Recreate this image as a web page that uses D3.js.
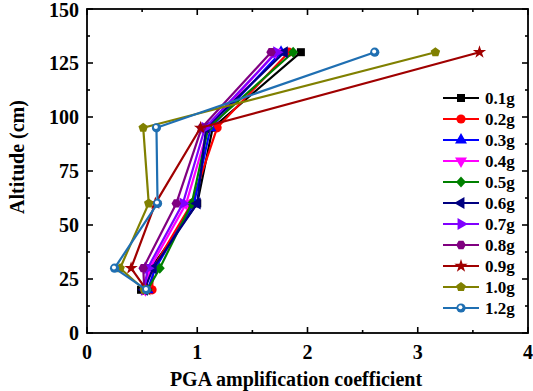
<!DOCTYPE html>
<html><head><meta charset="utf-8">
<script src="https://cdn.jsdelivr.net/npm/d3@7"></script>
<style>body{margin:0;background:#fff}svg{display:block}</style>
</head><body>
<svg id="c" width="533" height="391"></svg>
<script>
const altitudes = [20, 30, 60, 95, 130];
const seriesNames = ["0.1g","0.2g","0.3g","0.4g","0.5g","0.6g","0.7g","0.8g","0.9g","1.0g","1.2g"];
const s01 = [0.49, 0.58, 1.00, 1.14, 1.94];
const s02 = [0.59, 0.60, 0.95, 1.18, 1.83];
const s03 = [0.55, 0.62, 0.97, 1.12, 1.76];
const s04 = [0.53, 0.57, 0.90, 1.10, 1.71];
const s05 = [0.55, 0.66, 0.95, 1.10, 1.87];
const s06 = [0.52, 0.60, 1.00, 1.08, 1.79];
const s07 = [0.52, 0.55, 0.87, 1.07, 1.72];
const s08 = [0.52, 0.51, 0.81, 1.04, 1.67];
const s09 = [0.54, 0.40, 0.62, 1.03, 3.56];
const s10 = [0.52, 0.30, 0.56, 0.51, 3.16];
const s12 = [0.54, 0.25, 0.64, 0.63, 2.61];
const seriesValues = [s01,s02,s03,s04,s05,s06,s07,s08,s09,s10,s12];
const colors = ["#000000","#ff0000","#0000ff","#ff00ff","#008000","#000080","#8000ff","#800080","#a00000","#808000","#1f6fb2"];
const symbolsKind = ["square","circle","up","down","diamond","left","right","hex","star","pent","ball"];
const xTicks = [0,1,2,3,4];
const yTicks = [0,25,50,75,100,125,150];

const svg = d3.select("#c");
const L = 87, R = 528, T = 9, B = 333;
const x = d3.scaleLinear().domain([0,4]).range([L,R]);
const y = d3.scaleLinear().domain([0,150]).range([B,T]);
const font = "'Liberation Serif','Times New Roman',serif";

function marker(g, kind, color, cx, cy){
  switch(kind){
    case "square": g.append("rect").attr("x",cx-4).attr("y",cy-4).attr("width",8).attr("height",8).attr("fill",color); break;
    case "circle": g.append("circle").attr("cx",cx).attr("cy",cy).attr("r",4.6).attr("fill",color); break;
    case "up": case "down": case "left": case "right": {
      const rot = {up:0,down:180,left:-90,right:90}[kind];
      g.append("path").attr("d",d3.symbol().type(d3.symbolTriangle).size(62)())
        .attr("transform",`translate(${cx},${cy}) rotate(${rot})`).attr("fill",color); break; }
    case "diamond": g.append("path").attr("d","M0,-5.5L5,0L0,5.5L-5,0Z").attr("transform",`translate(${cx},${cy})`).attr("fill",color); break;
    case "hex": {
      const pts = d3.range(6).map(i=>{const a=Math.PI/3*i; return [4.8*Math.cos(a),4.8*Math.sin(a)];});
      g.append("path").attr("d","M"+pts.join("L")+"Z").attr("transform",`translate(${cx},${cy})`).attr("fill",color); break; }
    case "star": g.append("path").attr("d",d3.symbol().type(d3.symbolStar).size(55)()).attr("transform",`translate(${cx},${cy})`).attr("fill",color); break;
    case "pent": {
      const pts = d3.range(5).map(i=>{const a=-Math.PI/2+2*Math.PI/5*i; return [5*Math.cos(a),5*Math.sin(a)];});
      g.append("path").attr("d","M"+pts.join("L")+"Z").attr("transform",`translate(${cx},${cy})`).attr("fill",color); break; }
    case "ball":
      g.append("circle").attr("cx",cx).attr("cy",cy).attr("r",4.6).attr("fill",color);
      g.append("circle").attr("cx",cx-0.6).attr("cy",cy-0.8).attr("r",2).attr("fill","#ffffff"); break;
  }
}

// series
const line = d3.line().x(d=>x(d[0])).y(d=>y(d[1]));
seriesValues.forEach((vals,i)=>{
  const g = svg.append("g");
  const pts = vals.map((v,j)=>[v, altitudes[j]]);
  g.append("path").attr("d",line(pts)).attr("fill","none").attr("stroke",colors[i]).attr("stroke-width",2.2).attr("stroke-linejoin","round");
  pts.forEach(p=>marker(g, symbolsKind[i], colors[i], x(p[0]), y(p[1])));
});

// frame
svg.append("rect").attr("x",L).attr("y",T).attr("width",R-L).attr("height",B-T).attr("fill","none").attr("stroke","#000").attr("stroke-width",1.8);

// ticks inward
const ax = svg.append("g").attr("stroke","#000").attr("stroke-width",1.6);
d3.range(0,4.01,0.5).forEach(v=>{
  const major = Math.abs(v-Math.round(v))<1e-6; const len = major?6:3;
  ax.append("line").attr("x1",x(v)).attr("x2",x(v)).attr("y1",B).attr("y2",B-len);
  ax.append("line").attr("x1",x(v)).attr("x2",x(v)).attr("y1",T).attr("y2",T+len);
});
d3.range(0,150.01,12.5).forEach(v=>{
  const major = v%25===0; const len = major?6:3;
  ax.append("line").attr("y1",y(v)).attr("y2",y(v)).attr("x1",L).attr("x2",L+len);
  ax.append("line").attr("y1",y(v)).attr("y2",y(v)).attr("x1",R).attr("x2",R-len);
});

// tick labels
svg.append("g").selectAll("text").data(xTicks).join("text")
  .attr("x",d=>x(d)).attr("y",B+26).attr("text-anchor","middle")
  .attr("font-family",font).attr("font-weight","bold").attr("font-size",20).text(d=>d);
svg.append("g").selectAll("text").data(yTicks).join("text")
  .attr("x",L-8).attr("y",d=>Math.max(y(d)+7, 17)).attr("text-anchor","end")
  .attr("font-family",font).attr("font-weight","bold").attr("font-size",20).text(d=>d);

// axis titles
svg.append("text").attr("x",296).attr("y",386).attr("text-anchor","middle")
  .attr("font-family",font).attr("font-weight","bold").attr("font-size",20).text("PGA amplification coefficient");
svg.append("text").attr("transform","translate(24,157) rotate(-90)").attr("text-anchor","middle")
  .attr("font-family",font).attr("font-weight","bold").attr("font-size",20).text("Altitude (cm)");

// legend
const lg = svg.append("g");
seriesNames.forEach((n,i)=>{
  const ly = 98 + i*21;
  lg.append("line").attr("x1",443).attr("x2",479).attr("y1",ly).attr("y2",ly).attr("stroke",colors[i]).attr("stroke-width",2.2);
  marker(lg, symbolsKind[i], colors[i], 461, ly);
  lg.append("text").attr("x",485).attr("y",ly+6).attr("font-family",font).attr("font-weight","bold").attr("font-size",17).text(n);
});
</script>
</body></html>
